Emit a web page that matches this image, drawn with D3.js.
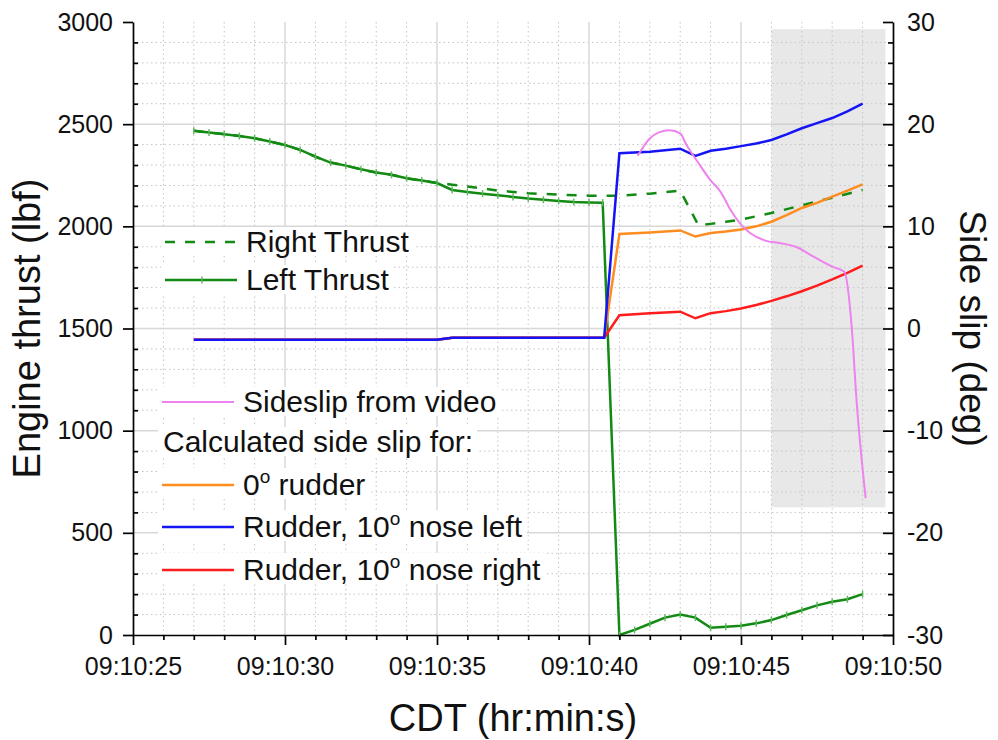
<!DOCTYPE html>
<html>
<head>
<meta charset="utf-8">
<script src="https://cdn.jsdelivr.net/npm/d3@7"></script>
<style>
  body { margin: 0; background: #fff; }
  svg { font-family: "Liberation Sans", Arial, sans-serif; }
</style>
</head>
<body>
<svg width="998" height="740"></svg>
<script>
// time in seconds after 09:10:00
var leftTime = [27, 27.5, 28, 28.5, 29, 29.5, 30, 30.5, 31, 31.5, 32, 32.5, 33, 33.5, 34, 34.5, 35, 35.5, 36, 36.5, 37, 37.5, 38, 38.5, 39, 39.5, 40, 40.45, 41, 41.5, 42, 42.5, 43, 43.5, 44, 44.5, 45, 45.5, 46, 46.5, 47, 47.5, 48, 48.5, 49];
var leftThrust = [2468, 2459, 2451, 2442, 2431, 2415, 2398, 2374, 2341, 2312, 2297, 2279, 2263, 2252, 2235, 2224, 2212, 2178, 2168, 2160, 2152, 2144, 2136, 2130, 2124, 2119, 2117, 2116, 0, 25, 55, 85, 100, 85, 35, 40, 45, 57, 73, 98, 121, 145, 163, 175, 200];

var rightTime = [27, 27.5, 28, 28.5, 29, 29.5, 30, 30.5, 31, 31.5, 32, 32.5, 33, 33.5, 34, 34.5, 35, 35.5, 36, 37, 38, 39, 40, 41, 42, 43, 43.6, 44, 44.5, 45, 46, 47, 48, 49];
var rightThrust = [2468, 2459, 2451, 2442, 2431, 2415, 2398, 2374, 2341, 2312, 2297, 2279, 2263, 2252, 2235, 2224, 2212, 2204, 2195, 2175, 2162, 2155, 2150, 2150, 2160, 2175, 2005, 2012, 2022, 2033, 2065, 2103, 2140, 2178];

var videoTime = [41.6, 42.0, 42.3, 42.65, 43.0, 43.2, 43.6, 44.0, 44.3, 44.7, 45.07, 45.3, 45.8, 46.3, 46.8, 47.4, 48.0, 48.4, 48.64, 48.8, 49.1];
var videoSlip = [16.9, 18.6, 19.2, 19.4, 19.1, 18.0, 16.2, 14.5, 13.5, 11.4, 9.95, 9.35, 8.6, 8.35, 8.0, 7.0, 6.05, 5.55, 0.2, -7.0, -16.6];

var calcTime = [27, 35, 35.5, 40.5, 41, 42, 43, 43.5, 44, 44.5, 45, 45.5, 46, 46.5, 47, 47.5, 48, 48.5, 49];
var rudder0 = [-1.1, -1.1, -0.9, -0.9, 9.25, 9.4, 9.6, 9.0, 9.35, 9.5, 9.7, 10.0, 10.45, 11.1, 11.8, 12.3, 12.9, 13.5, 14.1];
var noseLeft = [-1.1, -1.1, -0.9, -0.9, 17.15, 17.3, 17.6, 16.9, 17.4, 17.6, 17.85, 18.1, 18.45, 19.0, 19.6, 20.1, 20.6, 21.25, 22.0];
var noseRight = [-1.1, -1.1, -0.9, -0.9, 1.3, 1.5, 1.65, 1.0, 1.5, 1.7, 1.95, 2.3, 2.7, 3.15, 3.65, 4.2, 4.8, 5.45, 6.15];

// shaded window (time, side slip)
var shadeTime = [46, 49.75];
var shadeSlip = [-17.5, 29.3];

var xTicks = [25, 30, 35, 40, 45, 50];
var xTickLabels = ["09:10:25", "09:10:30", "09:10:35", "09:10:40", "09:10:45", "09:10:50"];
var thrustTicks = [0, 500, 1000, 1500, 2000, 2500, 3000];
var slipTicks = [-30, -20, -10, 0, 10, 20, 30];

var svg = d3.select("svg"),
    margin = {top: 22, right: 105, bottom: 105, left: 133},
    width = +svg.attr("width") - margin.left - margin.right,
    height = +svg.attr("height") - margin.top - margin.bottom;

var x = d3.scaleLinear().domain([25, 50]).range([0, width]),
    yL = d3.scaleLinear().domain([0, 3000]).range([height, 0]),
    yR = d3.scaleLinear().domain([-30, 30]).range([height, 0]);

var g = svg.append("g")
    .attr("transform", "translate(" + margin.left + "," + margin.top + ")");

// minor grid, dotted
var minorX = d3.range(26, 50, 1).filter(function (d) { return d % 5 !== 0; });
var minorY = d3.range(100, 3000, 100).filter(function (d) { return d % 500 !== 0; });
g.append("g").selectAll("line").data(minorX).enter().append("line")
    .attr("x1", x).attr("x2", x).attr("y1", 0).attr("y2", height)
    .attr("stroke", "#c4c4c4").attr("stroke-dasharray", "1.5,3");
g.append("g").selectAll("line").data(minorY).enter().append("line")
    .attr("x1", 0).attr("x2", width).attr("y1", yL).attr("y2", yL)
    .attr("stroke", "#c4c4c4").attr("stroke-dasharray", "1.5,3");

// major grid, solid
g.append("g").selectAll("line").data(xTicks.slice(1, -1)).enter().append("line")
    .attr("x1", x).attr("x2", x).attr("y1", 0).attr("y2", height)
    .attr("stroke", "#d8d8d8").attr("stroke-width", 1.5);
g.append("g").selectAll("line").data(thrustTicks.slice(1, -1)).enter().append("line")
    .attr("x1", 0).attr("x2", width).attr("y1", yL).attr("y2", yL)
    .attr("stroke", "#d8d8d8").attr("stroke-width", 1.5);

// shaded box
g.append("rect")
    .attr("x", x(shadeTime[0]))
    .attr("y", yR(shadeSlip[1]))
    .attr("width", x(shadeTime[1]) - x(shadeTime[0]))
    .attr("height", yR(shadeSlip[0]) - yR(shadeSlip[1]))
    .attr("fill", "#c8c8c8").attr("fill-opacity", 0.42);

var thrustLine = d3.line()
    .x(function (d) { return x(d[0]); })
    .y(function (d) { return yL(d[1]); });
var slipLine = d3.line()
    .x(function (d) { return x(d[0]); })
    .y(function (d) { return yR(d[1]); });

var green = "#138a13";

g.append("path")
    .datum(d3.zip(rightTime, rightThrust))
    .attr("fill", "none").attr("stroke", green).attr("stroke-width", 2.5)
    .attr("stroke-dasharray", "10,10")
    .attr("d", thrustLine);

g.append("path")
    .datum(d3.zip(leftTime, leftThrust))
    .attr("fill", "none").attr("stroke", green).attr("stroke-width", 2.5)
    .attr("d", thrustLine);

// little tick markers on the left thrust points
g.append("g").selectAll("line").data(d3.zip(leftTime, leftThrust)).enter().append("line")
    .attr("x1", function (d) { return x(d[0]); })
    .attr("x2", function (d) { return x(d[0]); })
    .attr("y1", function (d) { return yL(d[1]) - 3.5; })
    .attr("y2", function (d) { return yL(d[1]) + 3.5; })
    .attr("stroke", "#5cb85c").attr("stroke-width", 1.4);

var calcSeries = [
    {values: rudder0, color: "#ff8c1f"},
    {values: noseRight, color: "#ff1c1c"},
    {values: noseLeft, color: "#1414f5"}
];
calcSeries.forEach(function (s) {
    g.append("path")
        .datum(d3.zip(calcTime, s.values))
        .attr("fill", "none").attr("stroke", s.color).attr("stroke-width", 2.5)
        .attr("d", slipLine);
});

g.append("path")
    .datum(d3.zip(videoTime, videoSlip))
    .attr("fill", "none").attr("stroke", "#ee82ee").attr("stroke-width", 2)
    .attr("d", slipLine.curve(d3.curveMonotoneX));

// plain numbers with a normal hyphen for minus
var plain = function (d) { return String(d); };

// axes
g.append("g")
    .attr("transform", "translate(0," + height + ")")
    .call(d3.axisBottom(x).tickValues(xTicks).tickSize(10).tickSizeOuter(0).tickPadding(12)
        .tickFormat(function (d, i) { return xTickLabels[i]; }));
g.append("g")
    .attr("transform", "translate(0," + height + ")")
    .call(d3.axisBottom(x).tickValues(minorX).tickSize(5).tickFormat(""))
    .select(".domain").remove();

g.append("g")
    .call(d3.axisLeft(yL).tickValues(thrustTicks).tickSize(10).tickSizeOuter(0).tickPadding(10)
        .tickFormat(plain));
g.append("g")
    .call(d3.axisRight(yL).tickValues(minorY).tickSize(5).tickFormat(""))
    .select(".domain").remove();

g.append("g")
    .attr("transform", "translate(" + width + ",0)")
    .call(d3.axisRight(yR).tickValues(slipTicks).tickSizeInner(-10).tickSizeOuter(0).tickPadding(14)
        .tickFormat(plain));
g.append("g")
    .attr("transform", "translate(" + width + ",0)")
    .call(d3.axisRight(yR).tickValues(d3.range(-28, 30, 2).filter(function (d) { return d % 10 !== 0; }))
        .tickSizeInner(-5).tickFormat(""))
    .select(".domain").remove();

g.selectAll(".domain, .tick line").attr("stroke", "#000").attr("stroke-width", 1.7);
g.selectAll(".tick text").attr("font-size", 25).attr("fill", "#111").attr("font-family", null);

// axis titles
svg.append("text")
    .attr("transform", "translate(40," + (margin.top + height / 2) + ") rotate(-90)")
    .attr("text-anchor", "middle").attr("font-size", 38).attr("fill", "#111")
    .text("Engine thrust (lbf)");
svg.append("text")
    .attr("transform", "translate(960," + (margin.top + height / 2) + ") rotate(90)")
    .attr("text-anchor", "middle").attr("font-size", 37).attr("fill", "#111")
    .text("Side slip (deg)");
svg.append("text")
    .attr("x", margin.left + width / 2).attr("y", 731)
    .attr("text-anchor", "middle").attr("font-size", 38).attr("fill", "#111")
    .text("CDT (hr:min:s)");

// legends
var legendRows = [
    {y: 252, x0: 165, label: ["Right Thrust"], color: green, dash: "10,10", marker: false},
    {y: 290, x0: 165, label: ["Left Thrust"], color: green, dash: null, marker: true},
    {y: 412, x0: 162, label: ["Sideslip from video"], color: "#ee82ee"},
    {y: 452, x0: 162, label: ["Calculated side slip for:"], color: null},
    {y: 495, x0: 162, label: ["0", "o", " rudder"], color: "#ff8c1f"},
    {y: 537, x0: 162, label: ["Rudder, 10", "o", " nose left"], color: "#1414f5"},
    {y: 580, x0: 162, label: ["Rudder, 10", "o", " nose right"], color: "#ff1c1c"}
];

var leg = svg.append("g");
legendRows.forEach(function (r) {
    var row = leg.append("g");
    var bg = row.append("rect").attr("fill", "#fff");
    var tx = r.color ? r.x0 + 81 : r.x0 + 1;
    var t = row.append("text").attr("x", tx).attr("y", r.y)
        .attr("font-size", 30).attr("fill", "#111");
    t.append("tspan").text(r.label[0]);
    if (r.label.length > 1) {
        t.append("tspan").attr("dy", -12).attr("font-size", 19).text(r.label[1]);
        t.append("tspan").attr("dy", 12).text(r.label[2]);
    }
    if (r.color) {
        row.append("line")
            .attr("x1", r.x0).attr("x2", r.x0 + 72)
            .attr("y1", r.y - 10).attr("y2", r.y - 10)
            .attr("stroke", r.color).attr("stroke-width", r.color === "#ee82ee" ? 2 : 2.5)
            .attr("stroke-dasharray", r.dash || null);
    }
    if (r.marker) {
        row.append("line")
            .attr("x1", r.x0 + 37).attr("x2", r.x0 + 37)
            .attr("y1", r.y - 13.5).attr("y2", r.y - 6.5)
            .attr("stroke", "#5cb85c").attr("stroke-width", 1.4);
    }
    var b = t.node().getBBox();
    bg.attr("x", r.x0 - 4).attr("y", b.y + 2)
        .attr("width", b.x + b.width - r.x0 + 8).attr("height", b.height - 4);
});
</script>
</body>
</html>
